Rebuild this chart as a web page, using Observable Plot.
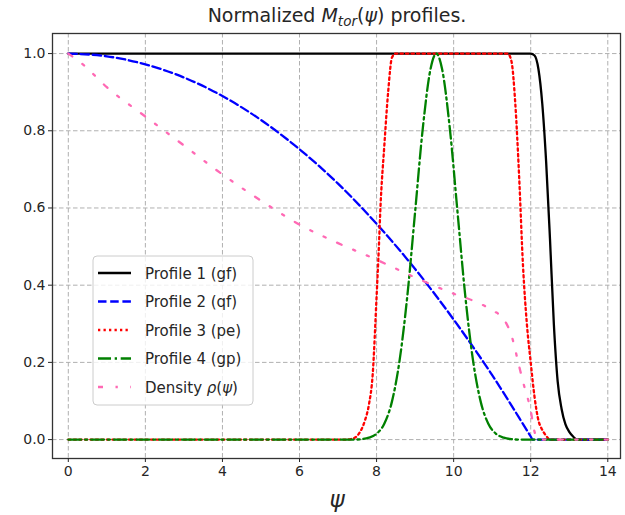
<!DOCTYPE html>
<html>
<head>
<meta charset="utf-8">
<script src="https://cdn.jsdelivr.net/npm/d3@7"></script>
<script src="https://cdn.jsdelivr.net/npm/@observablehq/plot@0.6"></script>
<style>
  html, body { margin: 0; padding: 0; background: #fff; }
  #chart { width: 625px; height: 515px; }
</style>
</head>
<body>
<div id="chart"></div>
<script>
// Profile 1 (gf): flat top, steep fall near psi ~ 12.5
const p1Psi = [0, 12.0, 12.1, 12.2, 12.3, 12.4, 12.5, 12.6, 12.7, 12.8, 12.9, 13.0, 13.1, 13.2, 14.0];
const p1Val = [1, 1, 0.995, 0.96, 0.87, 0.72, 0.52, 0.3, 0.15, 0.08, 0.04, 0.02, 0.008, 0, 0];

// Profile 2 (qf): parabolic decay to zero near psi ~ 12
const p2Psi = [0, 1, 2, 3, 4, 5, 6, 7, 8, 9, 10, 11, 12, 12.05, 14];
const p2Val = [1, 0.993, 0.972, 0.938, 0.89, 0.828, 0.752, 0.663, 0.559, 0.442, 0.311, 0.167, 0.008, 0, 0];

// Profile 3 (pe): plateau between ~8.4 and ~11.5
const p3Psi = [0, 7.2, 7.4, 7.5, 7.6, 7.7, 7.8, 7.9, 8.0, 8.06, 8.1, 8.2, 8.3, 8.4, 8.5,
               11.4, 11.5, 11.6, 11.7, 11.8, 11.9, 12.0, 12.1, 12.2, 12.3, 12.4, 12.5, 14];
const p3Val = [0, 0, 0.003, 0.01, 0.025, 0.05, 0.09, 0.17, 0.37, 0.5, 0.6, 0.76, 0.9, 0.99, 1,
               1, 0.98, 0.87, 0.68, 0.45, 0.3, 0.2, 0.11, 0.05, 0.025, 0.01, 0, 0];

// Profile 4 (gp): peaked profile centred near psi ~ 9.55
const p4Psi = [0, 7.4, 7.6, 7.8, 8.0, 8.2, 8.4, 8.6, 8.8, 9.0, 9.2, 9.4, 9.55, 9.7, 9.9,
               10.1, 10.3, 10.5, 10.7, 10.9, 11.1, 11.3, 11.5, 11.7, 14];
const p4Val = [0, 0, 0.001, 0.005, 0.015, 0.041, 0.099, 0.207, 0.374, 0.59, 0.807, 0.96, 1, 0.96, 0.807,
               0.59, 0.374, 0.207, 0.099, 0.041, 0.015, 0.005, 0.001, 0, 0];

// Density rho(psi)
const rhoPsi = [0, 0.4, 1, 2, 3, 4, 5, 6, 7, 8, 9, 10, 10.6, 11, 11.3, 11.5, 11.7, 11.8, 12.0, 12.1, 12.2, 14];
const rhoVal = [1, 0.97, 0.913, 0.837, 0.762, 0.687, 0.619, 0.557, 0.509, 0.466, 0.42, 0.378, 0.356, 0.335, 0.312, 0.27, 0.19, 0.15, 0.075, 0.02, 0, 0];

const xTicks = [0, 2, 4, 6, 8, 10, 12, 14];
const yTicks = [0, 0.2, 0.4, 0.6, 0.8, 1.0];

const toRows = (xs, ys) => xs.map((x, i) => ({x, y: ys[i]}));

const series = [
  {name: "Profile 1 (gf)", rows: toRows(p1Psi, p1Val), stroke: "black", dash: null},
  {name: "Profile 2 (qf)", rows: toRows(p2Psi, p2Val), stroke: "#0000ff", dash: "8.5,3.7"},
  {name: "Profile 3 (pe)", rows: toRows(p3Psi, p3Val), stroke: "#ff0000", dash: "2.3,3.2"},
  {name: "Profile 4 (gp)", rows: toRows(p4Psi, p4Val), stroke: "#008000", dash: "13,3.7,2.3,3.7"},
  {name: "Density", rows: toRows(rhoPsi, rhoVal), stroke: "#ff69b4", dash: "5,12.5,2.3,12.5,2.3,12.5"}
];

const W = 625, H = 515;
const font = "DejaVu Sans";
const ink = "#262626";
const lw = 2.3;

const plot = Plot.plot({
  width: W,
  height: H,
  marginLeft: 52,
  marginRight: 5,
  marginTop: 33,
  marginBottom: 57,
  style: {fontFamily: font, fontSize: "14px", color: ink, background: "#fff"},
  x: {domain: [-0.41, 14.33], label: null},
  y: {domain: [-0.049, 1.052], label: null},
  marks: [
    Plot.gridX(xTicks, {stroke: "#b0b0b0", strokeOpacity: 1, strokeWidth: 1, strokeDasharray: "4.5,2.5"}),
    Plot.gridY(yTicks, {stroke: "#b0b0b0", strokeOpacity: 1, strokeWidth: 1, strokeDasharray: "4.5,2.5"}),
    ...series.map(s => Plot.line(s.rows, {
      x: "x", y: "y", stroke: s.stroke, strokeWidth: lw,
      strokeDasharray: s.dash, curve: "monotone-x"
    })),
    Plot.frame({stroke: "#333", strokeWidth: 1.3}),
    Plot.axisX(xTicks, {tickSize: 4, tickPadding: 4, tickFormat: d => String(d), fontSize: 14, label: null}),
    Plot.axisY(yTicks, {tickSize: 4, tickPadding: 3, tickFormat: d3.format(".1f"), fontSize: 14, label: null})
  ]
});

document.getElementById("chart").appendChild(plot);

const svg = d3.select(plot);

// Title with math-style italic symbol and subscript
const title = svg.append("text")
  .attr("x", 337).attr("y", 22)
  .attr("text-anchor", "middle")
  .attr("font-family", font).attr("font-size", 19).attr("fill", ink);
title.append("tspan").text("Normalized ");
title.append("tspan").attr("font-style", "italic").text("M");
title.append("tspan").attr("font-style", "italic").attr("font-size", 13.5).attr("dy", 4).text("tor");
title.append("tspan").attr("dy", -4).text("(");
title.append("tspan").attr("font-style", "italic").text("ψ");
title.append("tspan").text(") profiles.");

// x-axis label
svg.append("text")
  .attr("x", 337).attr("y", 507)
  .attr("text-anchor", "middle")
  .attr("font-family", font).attr("font-size", 23).attr("font-style", "italic")
  .attr("fill", ink)
  .text("ψ");

// Legend
const lg = svg.append("g").attr("text-anchor", "start");
lg.append("rect")
  .attr("x", 93).attr("y", 256).attr("width", 160).attr("height", 149)
  .attr("rx", 4).attr("fill", "#fff").attr("fill-opacity", 0.8)
  .attr("stroke", "#cccccc").attr("stroke-width", 1);
const rowY = [273, 301.5, 330, 358.5, 387];
series.forEach((s, i) => {
  const y = rowY[i];
  lg.append("line")
    .attr("x1", 98).attr("x2", 131).attr("y1", y).attr("y2", y)
    .attr("stroke", s.stroke).attr("stroke-width", lw)
    .attr("stroke-dasharray", s.dash);
  const t = lg.append("text")
    .attr("x", 145).attr("y", y + 5.5)
    .attr("text-anchor", "start")
    .attr("font-family", font).attr("font-size", 15).attr("fill", ink);
  if (s.name === "Density") {
    t.append("tspan").text("Density ");
    t.append("tspan").attr("font-style", "italic").text("ρ");
    t.append("tspan").text("(");
    t.append("tspan").attr("font-style", "italic").text("ψ");
    t.append("tspan").text(")");
  } else {
    t.text(s.name);
  }
});
</script>
</body>
</html>
